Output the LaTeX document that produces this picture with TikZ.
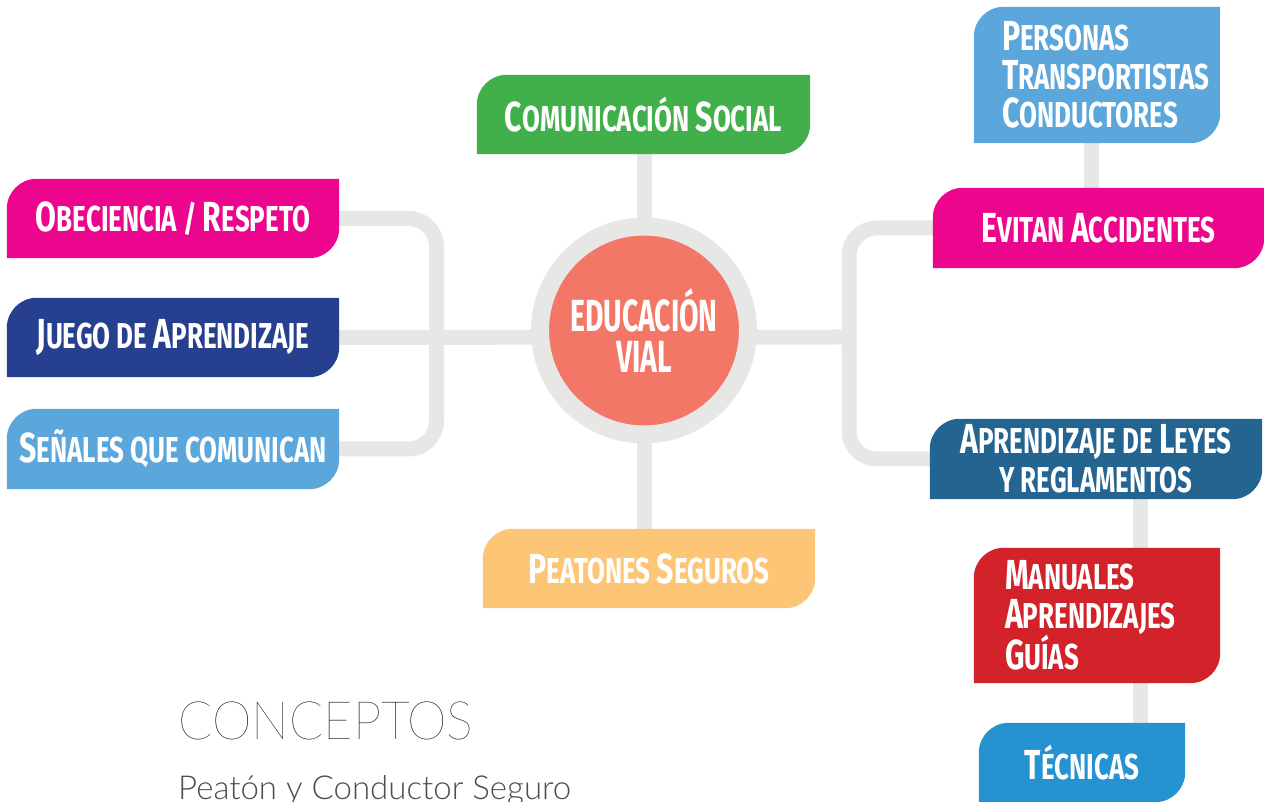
\documentclass[tikz,border=0pt]{standalone}
\usepackage{fontspec}
\usetikzlibrary{backgrounds}

\newfontfamily\boxfont{Fira Sans Bold}[FakeStretch=0.72]
\newfontfamily\hubfont{Fira Sans Bold}[FakeStretch=0.63]
\newfontfamily\thinfont{Lato Hairline}[FakeStretch=0.95]
\newfontfamily\lightfont{Lato Light}

\definecolor{cgreen}{HTML}{41B04B}
\definecolor{cmagenta}{HTML}{EC068D}
\definecolor{cnavy}{HTML}{273F8F}
\definecolor{csky}{HTML}{5BA7DB}
\definecolor{corange}{HTML}{FDC676}
\definecolor{cteal}{HTML}{236491}
\definecolor{cred}{HTML}{D2232A}
\definecolor{cblue}{HTML}{2592D1}
\definecolor{csalmon}{HTML}{F37766}
\definecolor{cring}{HTML}{E7E7E5}
\definecolor{ctext}{HTML}{4D4D4D}

% bigger first letter of a word, rest in small capitals
\newcommand\capl[1]{{\fontsize{42}{38.5}\selectfont #1}}

\tikzset{
  link/.style={draw=cring, line width=15pt},
  leaf/.style={inner sep=0pt, text=white, align=center,
    font=\boxfont\fontsize{36}{38.5}\selectfont},
}

\begin{document}
\begin{tikzpicture}[x=1pt,y=1pt]
  \useasboundingbox (0,0) rectangle (1264,802);

  % centre
  \node[circle, fill=csalmon, draw=cring, line width=18pt, minimum size=208pt,
    inner sep=0pt, text=white, align=center,
    font=\hubfont\fontsize{45}{42}\selectfont] (edu) at (644,471.5) {EDUCACIÓN\\VIAL};

  % top and bottom
  \node[leaf, minimum width=333pt, minimum height=79pt] (com) at (643.5,687.5) {\capl{C}OMUNICACIÓN \capl{S}OCIAL};
  \node[leaf, minimum width=332pt, minimum height=79pt] (pea) at (649,233.5) {\capl{P}EATONES \capl{S}EGUROS};

  % left
  \node[leaf, minimum width=332pt, minimum height=79pt] (obe) at (173,583.5) {\capl{O}BECIENCIA / \capl{R}ESPETO};
  \node[leaf, minimum width=332pt, minimum height=79pt] (jue) at (173,464.5) {\capl{J}UEGO DE \capl{A}PRENDIZAJE};
  \node[leaf, minimum width=332pt, minimum height=80pt] (sen) at (173,353) {\capl{S}EÑALES QUE COMUNICAN};

  % right
  \node[leaf, minimum width=246pt, minimum height=136pt, text width=190pt, align=left] (per) at (1097,727)
    {\capl{P}ERSONAS\\\capl{T}RANSPORTISTAS\\\capl{C}ONDUCTORES};
  \node[leaf, minimum width=331pt, minimum height=80pt] (evi) at (1098.5,574) {\capl{E}VITAN \capl{A}CCIDENTES};
  \node[leaf, minimum width=332pt, minimum height=80pt] (apr) at (1096,343) {\capl{A}PRENDIZAJE DE \capl{L}EYES\\Y REGLAMENTOS};
  \node[leaf, minimum width=246pt, minimum height=135pt, text width=184pt, align=left] (man) at (1097,186.5)
    {\capl{M}ANUALES\\\capl{A}PRENDIZAJES\\\capl{G}UÍAS};
  \node[leaf, minimum width=206pt, minimum height=79pt] (tec) at (1082,39.5) {\capl{T}ÉCNICAS};

  \coordinate (hubL) at (436.5,465);
  \coordinate (hubR) at (849,465);
  \coordinate (spine) at (1140,0);

  \node[anchor=base west, inner sep=0pt, text=black, font=\thinfont\fontsize{53}{53}\selectfont] (tit) at (178,62) {CONCEPTOS};
  \node[anchor=base west, inner sep=0pt, text=ctext, font=\lightfont\fontsize{33}{33}\selectfont] (sub) at (178,2) {Peatón y Conductor Seguro};

  \begin{scope}[on background layer]
    % connectors
    \draw[link] (com.south -| edu.center) -- (pea.north -| edu.center);
    \draw[link] (jue.center) -- (hubR);
    \draw[link, rounded corners=28pt] (obe.center) -| (hubL) |- (sen.center);
    \draw[link, rounded corners=28pt] (evi.center) -| (hubR) |- (apr.center);
    \draw[link] ([xshift=-6pt]per.center) -- ([xshift=-6pt]per.center |- evi.center);
    \draw[link] (apr.south -| spine) -- (tec.north -| spine);

    % boxes
    \foreach \n/\c in {com/cgreen, pea/corange, obe/cmagenta, jue/cnavy, sen/csky,
                       per/csky, evi/cmagenta, apr/cteal, man/cred, tec/cblue}
      \fill[\c] (\n.south west) -- ([yshift=-30pt]\n.north west)
        arc[start angle=180, end angle=90, radius=30pt] -- (\n.north east)
        -- ([yshift=30pt]\n.south east)
        arc[start angle=0, end angle=-90, radius=30pt] -- cycle;
  \end{scope}
\end{tikzpicture}
\end{document}
